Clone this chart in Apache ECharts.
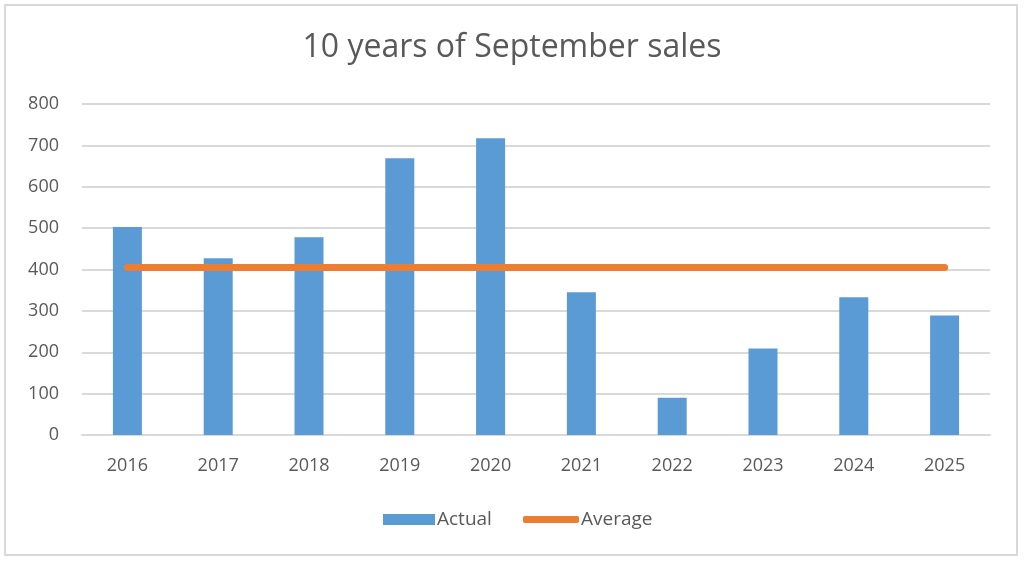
<!DOCTYPE html>
<html>
<head>
<meta charset="utf-8">
<script src="https://cdn.jsdelivr.net/npm/echarts@6/dist/echarts.min.js"></script>
<style>
html,body{margin:0;padding:0;background:#fff;}
#wrap{position:absolute;left:4px;top:4px;width:1014px;height:552px;border:2px solid #d9d9d9;box-sizing:border-box;}
#chart{position:absolute;left:0;top:0;width:1024px;height:563px;}
</style>
</head>
<body>
<div id="wrap"></div>
<div id="chart"></div>
<script>
const categories = ['2016','2017','2018','2019','2020','2021','2022','2023','2024','2025'];
const actual = [503, 427, 478, 669, 717, 345, 90, 209, 333, 289];
const averageValue = 405;
const average = categories.map(() => averageValue);
const yTicks = [0, 100, 200, 300, 400, 500, 600, 700, 800];

const chart = echarts.init(document.getElementById('chart'));
const font = '"Open Sans", "Liberation Sans", sans-serif';
const legendText = {fontFamily: font, fontSize: 19, color: '#595959', padding: [0,0,0,-3]};
chart.setOption({
  animation: false,
  backgroundColor: 'transparent',
  title: {
    text: '10 years of September sales',
    left: 'center',
    top: 27,
    textStyle: {fontFamily: font, fontSize: 32, fontWeight: 'normal', color: '#595959'}
  },
  legend: [
    {
      left: 378, top: 505,
      itemWidth: 52, itemHeight: 11,
      textStyle: legendText,
      data: [{name: 'Actual', icon: 'rect'}]
    },
    {
      left: 518, top: 505,
      itemWidth: 56, itemHeight: 7,
      textStyle: legendText,
      data: [{name: 'Average', icon: 'roundRect'}]
    }
  ],
  grid: {left: 82, right: 34, top: 104, bottom: 128},
  xAxis: {
    type: 'category',
    data: categories,
    axisLine: {lineStyle: {color: '#d9d9d9', width: 2}},
    axisTick: {show: false},
    axisLabel: {fontFamily: font, fontSize: 18, color: '#595959', margin: 22}
  },
  yAxis: {
    type: 'value',
    min: yTicks[0],
    max: yTicks[yTicks.length - 1],
    interval: 100,
    axisLine: {show: false},
    axisTick: {show: false},
    axisLabel: {fontFamily: font, fontSize: 18, color: '#595959', margin: 23},
    splitLine: {lineStyle: {color: '#d9d9d9', width: 2}}
  },
  series: [
    {
      name: 'Actual',
      type: 'bar',
      data: actual,
      barWidth: 29,
      itemStyle: {color: '#5b9bd5'}
    },
    {
      name: 'Average',
      type: 'line',
      data: average,
      symbol: 'none',
      itemStyle: {color: '#ed7d31'},
      lineStyle: {color: '#ed7d31', width: 7, cap: 'round'}
    }
  ]
});
</script>
</body>
</html>
